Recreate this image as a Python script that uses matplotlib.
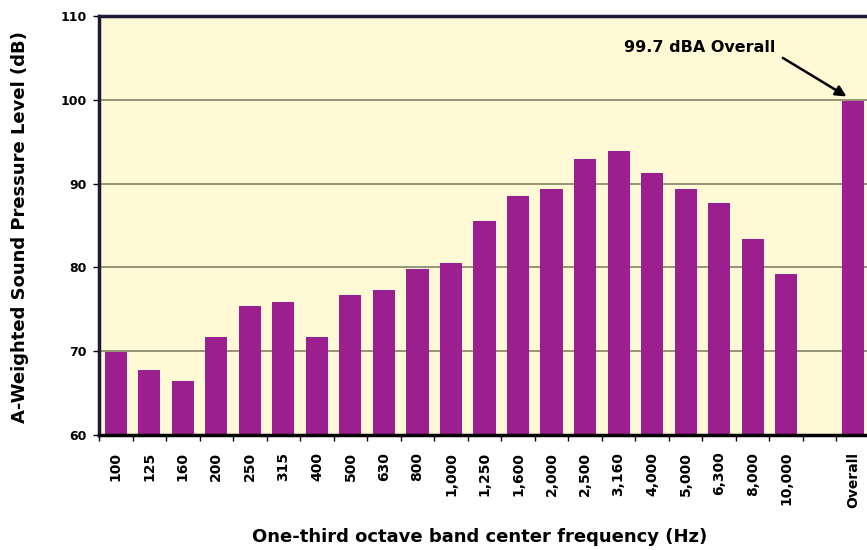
import matplotlib
matplotlib.use("Agg")
import matplotlib.pyplot as plt
import numpy as np

plt.rcParams['font.family'] = ['DejaVu Sans']
plt.rcParams['font.weight'] = 'bold'

# one-third octave bands (Hz) and A-weighted levels (dB)
bands = ["100", "125", "160", "200", "250", "315", "400", "500", "630", "800",
         "1,000", "1,250", "1,600", "2,000", "2,500", "3,160", "4,000", "5,000",
         "6,300", "8,000", "10,000"]
levels = [69.9, 67.8, 66.4, 71.7, 75.4, 75.9, 71.7, 76.7, 77.3, 79.8,
          80.5, 85.5, 88.5, 89.3, 92.9, 93.9, 91.3, 89.3, 87.7, 83.4, 79.2]
overall_label = "Overall"
overall_level = 99.9
y_ticks = [60, 70, 80, 90, 100, 110]

bar_color = "#9B1F8F"
bg_color = "#FFF9D6"
grid_color = "#8C8C70"

x = np.arange(len(bands))
x_overall = len(bands) + 1
n_slots = len(bands) + 2

fig = plt.figure(figsize=(8.67, 5.5), dpi=100)
ax = fig.add_axes([99 / 867, 115 / 550, 771 / 867, 419 / 550])
ax.set_facecolor(bg_color)

for yv in y_ticks[1:-1]:
    ax.axhline(yv, color=grid_color, linewidth=1.3, zorder=1)

ax.bar(x, levels, width=0.66, color=bar_color, zorder=2)
ax.bar([x_overall], [overall_level], width=0.66, color=bar_color, zorder=2)

ax.set_xlim(-0.5, n_slots - 0.5)
ax.set_ylim(60, 110)

# labels sit at slot centres, tick marks at slot boundaries
ax.set_xticks(np.arange(n_slots + 1) - 0.5)
ax.set_xticklabels([])
ax.set_xticks(list(x) + [x_overall], minor=True)
ax.set_xticklabels(bands + [overall_label], minor=True, rotation=90, fontsize=10,
                   fontweight="bold", va="top")
ax.tick_params(axis="x", which="major", length=4, width=1, direction="out")
ax.tick_params(axis="x", which="minor", length=0, pad=12)

ax.set_yticks(y_ticks)
ax.set_yticklabels([str(v) for v in y_ticks], fontsize=9, fontweight="bold")
ax.tick_params(axis="y", length=4, width=1, direction="out", pad=5)

for side in ["left", "top"]:
    ax.spines[side].set_color("#1C1A3A")
    ax.spines[side].set_linewidth(2.5)
ax.spines["bottom"].set_color("black")
ax.spines["bottom"].set_linewidth(2.5)
ax.spines["right"].set_visible(False)

fig.text(20 / 867, 1 - 227 / 550, "A-Weighted Sound Pressure Level (dB)", rotation=90,
         ha="center", va="center", fontsize=13, fontweight="bold")
fig.text(480 / 867, 1 - 537 / 550, "One-third octave band center frequency (Hz)",
         ha="center", va="center", fontsize=13, fontweight="bold")

ax.text(x_overall - 4.57, 106.2, "99.7 dBA Overall", ha="center", va="center",
        fontsize=11.5, fontweight="bold")
ax.annotate("", xy=(x_overall - 0.2, overall_level + 0.5), xytext=(x_overall - 2.1, 105.0),
            arrowprops=dict(arrowstyle="-|>", color="black", lw=1.8,
                            mutation_scale=16, shrinkA=0, shrinkB=0))

fig.savefig("out.png", dpi=100)
